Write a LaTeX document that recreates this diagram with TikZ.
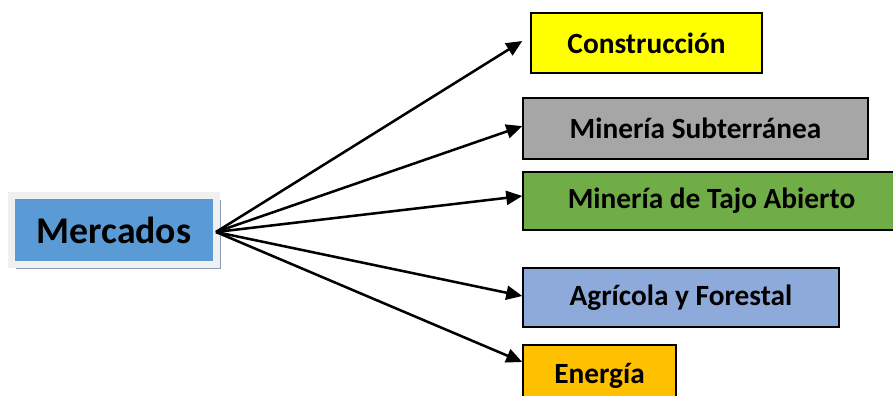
\documentclass[tikz,border=0pt]{standalone}
\usepackage{fontspec}
\setmainfont{Carlito}
\usepackage{tikz}
\usetikzlibrary{arrows.meta, shadows}

\definecolor{mblue}{HTML}{5B9BD5}
\definecolor{mframe}{HTML}{F0F0F0}
\definecolor{mshadow}{HTML}{8C9DB5}
\definecolor{cyellow}{HTML}{FFFF00}
\definecolor{sgray}{HTML}{A6A6A6}
\definecolor{tgreen}{HTML}{70AD47}
\definecolor{ablue}{HTML}{8EAADB}
\definecolor{eorange}{HTML}{FFC000}

\begin{document}
\begin{tikzpicture}[x=0.75pt, y=-0.75pt]
      \tikzstyle{root} = [
        rectangle,
        draw=mframe,
        line width=5.25pt,
        fill=mblue,
        minimum width=153.75pt,
        minimum height=51.75pt,
        font=\fontsize{28.3}{30}\selectfont\bfseries,
        drop shadow={shadow xshift=3pt, shadow yshift=-3.5pt,
          fill=mshadow, opacity=1}
      ]

      \tikzstyle{market} = [
        rectangle,
        draw=black,
        line width=1.1pt,
        text centered,
        inner sep=0pt,
        font=\fontsize{22}{24}\selectfont\bfseries
      ]

      \tikzstyle{link} = [
        line width=1.9pt,
        -{Triangle[length=12pt, width=10.5pt]}
      ]

      \useasboundingbox (0,0) rectangle (893,396);

      \node[root] (mercados) at (114,230) {Mercados};
      \node[market, fill=cyellow, minimum width=173.25pt,
        minimum height=45pt] (construccion) at (646.5,43) {Construcción};
      \node[market, fill=sgray, minimum width=258.75pt,
        minimum height=45.75pt] (subterranea) at (695.5,128.5)
        {Minería Subterránea};
      \node[market, fill=tgreen, minimum width=282.75pt,
        minimum height=43.5pt] (tajo) at (711.5,201)
        {Minería de Tajo Abierto};
      \node[market, fill=ablue, minimum width=237pt,
        minimum height=44.25pt] (agricola) at (681,297.5)
        {Agrícola y Forestal};
      \node[market, fill=eorange, minimum width=114.75pt,
        minimum height=46.5pt] (energia) at (599.5,376) {Energía};

      \coordinate (hub) at (216,232);

      \draw[link] (hub) -- ([xshift=-6pt, yshift=1.5pt]construccion.west);
      \draw[link] (hub) -- ([yshift=1.8pt]subterranea.west);
      \draw[link] (hub) -- ([yshift=3.75pt]tajo.west);
      \draw[link] (hub) -- ([yshift=1.1pt]agricola.west);
      \draw[link] (hub) -- ([yshift=10.5pt]energia.west);
    \end{tikzpicture}
\end{document}
